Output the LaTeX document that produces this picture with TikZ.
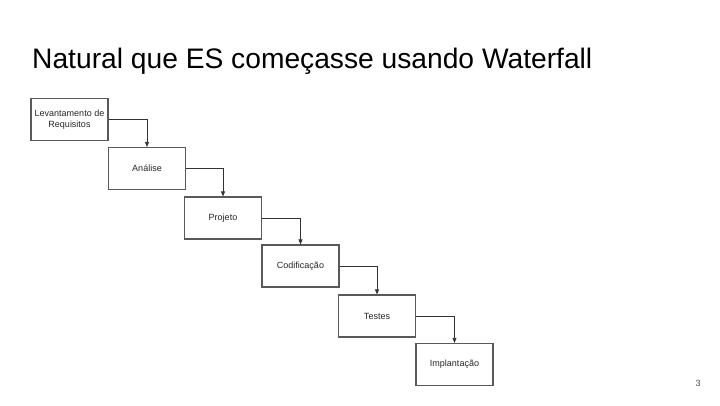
\documentclass[tikz,border=0pt]{standalone}
\usepackage{fontspec}
\setmainfont{Liberation Sans}
\usetikzlibrary{arrows.meta}
\begin{document}
\begin{tikzpicture}[x=1pt,y=-1pt,
  stepbox/.style={draw=black!65, line width=1.2pt, minimum width=77pt, minimum height=42pt,
    inner sep=1pt, align=center, font=\fontsize{9}{11}\selectfont, text=black!85},
  arr/.style={draw=black!80, line width=0.7pt, -{Triangle[length=5pt,width=4pt]}}]
\useasboundingbox[fill=white] (0,0) rectangle (720,405);
\node[anchor=base west, font=\fontsize{28.2}{32}\selectfont, inner sep=0pt] (title) at (32,68) {Natural que ES começasse usando Waterfall};
\node[stepbox] (b1) at (69.5,119.5) {Levantamento de\\Requisitos};
\node[stepbox] (b2) at (147,168.5) {Análise};
\node[stepbox] (b3) at (223,218) {Projeto};
\node[stepbox] (b4) at (300.5,266) {Codificação};
\node[stepbox] (b5) at (377,316) {Testes};
\node[stepbox] (b6) at (454.5,364.5) {Implantação};
\draw[arr] (b1.east) -| (b2.north);
\draw[arr] (b2.east) -| (b3.north);
\draw[arr] (b3.east) -| (b4.north);
\draw[arr] (b4.east) -| (b5.north);
\draw[arr] (b5.east) -| (b6.north);
\node[font=\fontsize{9}{11}\selectfont, text=black!70] (pg) at (698,383) {3};
\end{tikzpicture}
\end{document}
